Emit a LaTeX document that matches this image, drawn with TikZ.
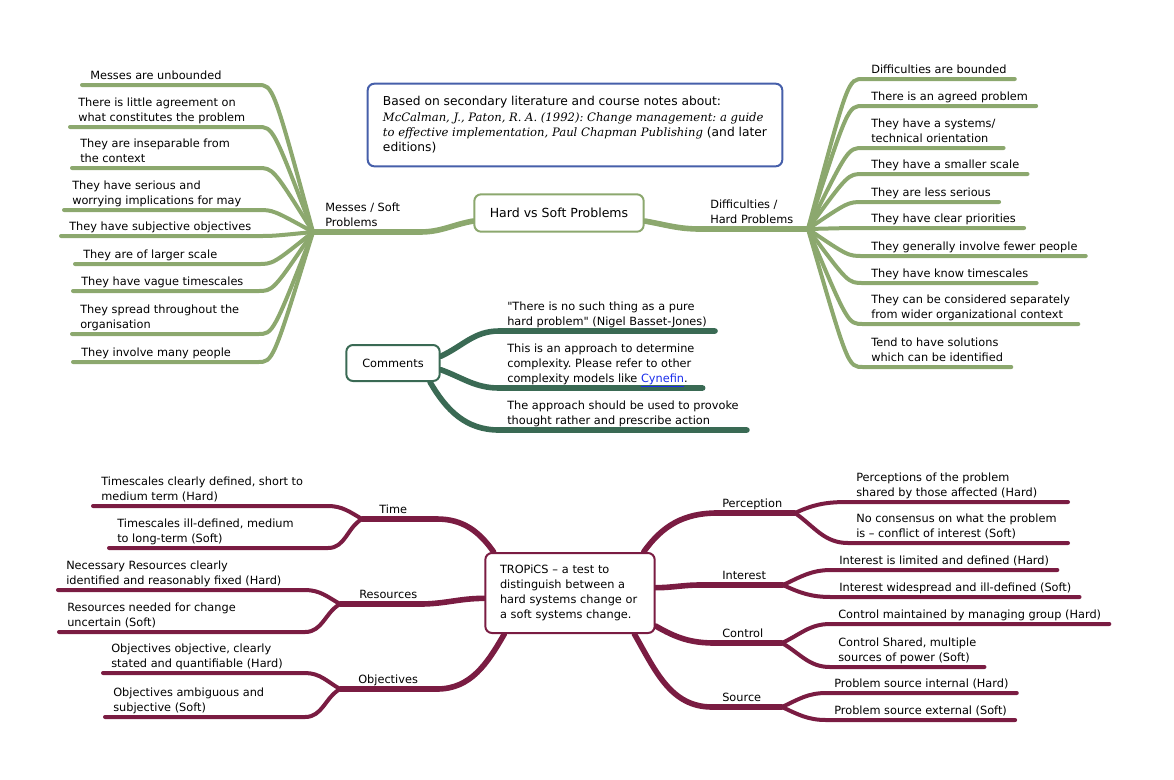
\documentclass[tikz,border=0pt]{standalone}
\usepackage{fontspec}
\setmainfont{DejaVu Sans}
\newfontfamily\citefont{DejaVu Serif}
\usetikzlibrary{backgrounds}
\frenchspacing

\definecolor{softgreen}{RGB}{140,168,110}
\definecolor{deepgreen}{RGB}{58,106,84}
\definecolor{wine}{RGB}{122,28,66}
\definecolor{refblue}{RGB}{70,95,170}
\definecolor{linkblue}{RGB}{25,45,235}

\begin{document}
\begin{tikzpicture}[x=0.75pt, y=-0.75pt,
    every node/.style={font=\fontsize{8.5}{11.25}\selectfont},
    topic/.style={draw, line width=1.5pt, rounded corners=5pt, fill=white, align=center},
    leaf/.style={anchor=south west, align=left, inner xsep=6pt, inner ysep=2.5pt, text depth=1.5pt},
    lbl/.style={anchor=south west, align=left, inner xsep=0pt, inner ysep=2.5pt, text depth=1.5pt},
    twig/.style={line width=3pt, line cap=round},
    limb/.style={line width=4.2pt, line cap=round}
]
\useasboundingbox (0,0) rectangle (1174,779);

% ---- Central topic and reference note ----
\node[topic, draw=softgreen, minimum width=127pt, minimum height=28pt,
      font=\fontsize{9.4}{11.25}\selectfont] (hs) at (559,213) {Hard vs Soft Problems};
\node[topic, draw=refblue, align=left, minimum width=311pt, minimum height=62pt, inner xsep=4pt,
      font=\fontsize{9.2}{11.5}\selectfont] (refs) at (575,125)
  {Based on secondary literature and course notes about:\\
   {\citefont\itshape\fontsize{8.7}{11.5}\selectfont McCalman, J., Paton, R. A. (1992): Change management: a guide}\\
   {\citefont\itshape\fontsize{8.7}{11.5}\selectfont to effective implementation, Paul Chapman Publishing} (and later\\
   editions)};

% ---- Messes / Soft Problems ----
\node[lbl] (msLbl) at (325,232) {Messes / Soft\\Problems};
\coordinate (mJ) at (313,232);
\coordinate (mK) at (420,232);
\coordinate (mEnd) at (258,0);
\foreach \nm/\x/\y/\txt in {
    m1/82/85/{Messes are unbounded},
    m2/70/127/{There is little agreement on\\what constitutes the problem},
    m3/72/168/{They are inseparable from\\the context},
    m4/64/210/{They have serious and\\worrying implications for may},
    m5/61/236/{They have subjective objectives},
    m6/75/264/{They are of larger scale},
    m7/73/291/{They have vague timescales},
    m8/72/334/{They spread throughout the\\organisation},
    m9/73/362/{They involve many people}} {
  \node[leaf] (\nm) at (\x,\y) {\txt};
  \begin{scope}[on background layer]
    \draw[twig, softgreen] (\nm.south west) -- (\nm.south west -| mEnd) .. controls +(15,0) .. (mJ);
  \end{scope}
}

% ---- Difficulties / Hard Problems ----
\node[lbl] (dfLbl) at (710,229) {Difficulties /\\Hard Problems};
\coordinate (dJ) at (808,229);
\coordinate (dK) at (700,229);
\foreach \nm/\y/\txt in {
    d1/79/{Difficulties are bounded},
    d2/106/{There is an agreed problem},
    d3/148/{They have a systems/\\technical orientation},
    d4/174/{They have a smaller scale},
    d5/202/{They are less serious},
    d6/228/{They have clear priorities},
    d7/256/{They generally involve fewer people},
    d8/283/{They have know timescales},
    d9/324/{They can be considered separately\\from wider organizational context},
    d10/367/{Tend to have solutions\\which can be identified}} {
  \node[leaf] (\nm) at (863,\y) {\txt};
  \begin{scope}[on background layer]
    \draw[twig, softgreen] (\nm.south east) -- (\nm.south west) .. controls +(-15,0) .. (dJ);
  \end{scope}
}

% ---- Comments ----
\node[topic, draw=deepgreen, minimum width=70pt, minimum height=27pt] (cm) at (393,363) {Comments};
\node[leaf] (cm1) at (499,331) {\textquotedbl There is no such thing as a pure\\hard problem\textquotedbl{} (Nigel Basset-Jones)};
\node[leaf] (cm2) at (499,388) {This is an approach to determine\\complexity. Please refer to other\\complexity models like \textcolor{linkblue}{\underline{Cynefin}}.};
\node[leaf] (cm3) at (499,430) {The approach should be used to provoke\\thought rather and prescribe action};

% ---- TROPiCS ----
\node[topic, draw=wine, align=left, text width=105pt, inner xsep=11pt, minimum height=60pt] (tr) at (570,593)
  {TROPiCS – a test to\\distinguish between a\\hard systems change or\\a soft systems change.};

\node[lbl] (time) at (379,519) {Time};
\node[lbl] (res) at (359,604) {Resources};
\node[lbl] (obj) at (358,689) {Objectives};
\node[lbl] (perc) at (722,513) {Perception};
\node[lbl] (intr) at (722,585) {Interest};
\node[lbl] (ctrl) at (722,643) {Control};
\node[lbl] (src) at (722,707) {Source};

\coordinate (tJ) at (362,519); \coordinate (tK) at (437,519); \coordinate (tEnd) at (328,0);
\coordinate (rJ) at (340,604); \coordinate (rK) at (420,604); \coordinate (rEnd) at (305,0);
\coordinate (oJ) at (340,689); \coordinate (oK) at (437,689); \coordinate (oEnd) at (305,0);
\coordinate (pJ) at (795,513); \coordinate (pK) at (717,513); \coordinate (pEnd) at (1068,0);
\coordinate (iJ) at (783,585); \coordinate (iK) at (700,585);
\coordinate (kJ) at (782,643); \coordinate (kK) at (715,643);
\coordinate (sJ) at (782,707); \coordinate (sK) at (712,707);

\node[leaf] (t1) at (93,506) {Timescales clearly defined, short to\\medium term (Hard)};
\node[leaf] (t2) at (109,548) {Timescales ill-defined, medium\\to long-term (Soft)};
\node[leaf] (r1) at (58,590) {Necessary Resources clearly\\identified and reasonably fixed (Hard)};
\node[leaf] (r2) at (59,632) {Resources needed for change\\uncertain (Soft)};
\node[leaf] (o1) at (103,673) {Objectives objective, clearly\\stated and quantifiable (Hard)};
\node[leaf] (o2) at (105,717) {Objectives ambiguous and\\subjective (Soft)};

\node[leaf] (p1) at (848,502) {Perceptions of the problem\\shared by those affected (Hard)};
\node[leaf] (p2) at (848,543) {No consensus on what the problem\\is – conflict of interest (Soft)};
\node[leaf] (i1) at (831,570) {Interest is limited and defined (Hard)};
\node[leaf] (i2) at (831,597) {Interest widespread and ill-defined (Soft)};
\node[leaf] (k1) at (830,624) {Control maintained by managing group (Hard)};
\node[leaf] (k2) at (830,667) {Control Shared, multiple\\sources of power (Soft)};
\node[leaf] (s1) at (826,693) {Problem source internal (Hard)};
\node[leaf] (s2) at (826,720) {Problem source external (Soft)};

% ---- Branches ----
\begin{scope}[on background layer]
  % top map
  \draw[limb, softgreen] ([yshift=-6pt]hs.west) to[out=190,in=0] (mK) -- (mJ);
  \draw[limb, softgreen] ([yshift=-6pt]hs.east) to[out=-10,in=180] (dK) -- (dJ);

  % comments
  \draw[limb, deepgreen] ([yshift=5pt]cm.east) to[out=25,in=180] (cm1.south west) -- (cm1.south east);
  \draw[limb, deepgreen] ([yshift=-5pt]cm.east) to[out=-20,in=180] (cm2.south west) -- (cm2.south east);
  \draw[limb, deepgreen] ([xshift=-8pt]cm.south east) to[out=-60,in=180] (cm3.south west) -- (cm3.south east);

  % TROPiCS, left side
  \draw[limb, wine] ([xshift=7pt]tr.north west) to[out=125,in=0] (tK) -- (tJ);
  \draw[limb, wine] ([yshift=-4pt]tr.west) to[out=180,in=0] (rK) -- (rJ);
  \draw[limb, wine] ([xshift=15pt]tr.south west) to[out=-120,in=0] (oK) -- (oJ);
  \draw[twig, wine] (t1.south west) -- (t1.south west -| tEnd) to[out=0,in=150] (tJ);
  \draw[twig, wine] (t2.south west) -- (t2.south west -| tEnd) to[out=0,in=210] (tJ);
  \draw[twig, wine] (r1.south west) -- (r1.south west -| rEnd) to[out=0,in=150] (rJ);
  \draw[twig, wine] (r2.south west) -- (r2.south west -| rEnd) to[out=0,in=210] (rJ);
  \draw[twig, wine] (o1.south west) -- (o1.south west -| oEnd) to[out=0,in=150] (oJ);
  \draw[twig, wine] (o2.south west) -- (o2.south west -| oEnd) to[out=0,in=210] (oJ);

  % TROPiCS, right side
  \draw[limb, wine] ([xshift=-9pt]tr.north east) to[out=55,in=180] (pK) -- (pJ);
  \draw[limb, wine] ([yshift=4pt]tr.east) to[out=0,in=180] (iK) -- (iJ);
  \draw[limb, wine] ([yshift=6pt]tr.south east) to[out=-30,in=180] (kK) -- (kJ);
  \draw[limb, wine] ([xshift=-16pt]tr.south east) to[out=-60,in=180] (sK) -- (sJ);
  \draw[twig, wine] (pJ) to[out=25,in=180] (p1.south west) -- (p1.south west -| pEnd);
  \draw[twig, wine] (pJ) to[out=-35,in=180] (p2.south west) -- (p2.south west -| pEnd);
  \draw[twig, wine] (iJ) to[out=25,in=180] (i1.south west) -- (i1.south east);
  \draw[twig, wine] (iJ) to[out=-25,in=180] (i2.south west) -- (i2.south east);
  \draw[twig, wine] (kJ) to[out=25,in=180] (k1.south west) -- (k1.south east);
  \draw[twig, wine] (kJ) to[out=-30,in=180] (k2.south west) -- (k2.south east);
  \draw[twig, wine] (sJ) to[out=25,in=180] (s1.south west) -- (s1.south east);
  \draw[twig, wine] (sJ) to[out=-25,in=180] (s2.south west) -- (s2.south east);
\end{scope}

\end{tikzpicture}
\end{document}
